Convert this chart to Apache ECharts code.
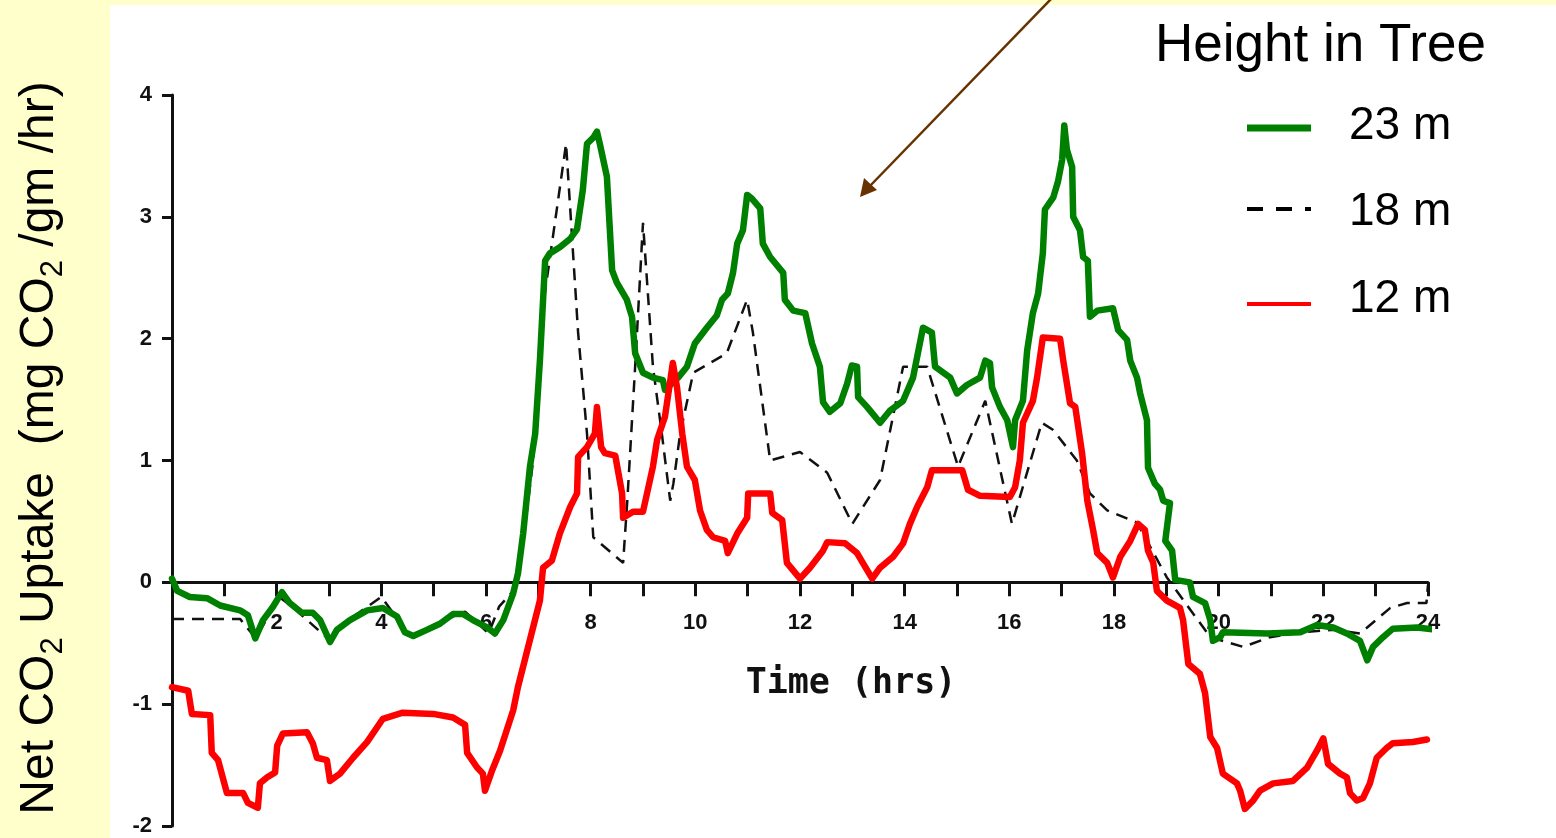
<!DOCTYPE html>
<html>
<head>
<meta charset="utf-8">
<script src="https://cdn.jsdelivr.net/npm/echarts@6/dist/echarts.min.js"></script>
<style>
  html, body { margin: 0; padding: 0; background: #ffffcc; }
  #chart { width: 1556px; height: 838px; }
</style>
</head>
<body>
<div id="chart"></div>
<script>
// hours, net CO2 uptake

const series23m = [
    [0.00, 0.03], [0.10, -0.07], [0.34, -0.12], [0.67, -0.13], [0.92, -0.19], [1.30, -0.23],
    [1.45, -0.27], [1.59, -0.46], [1.74, -0.31], [1.93, -0.20], [2.10, -0.08], [2.25, -0.17],
    [2.48, -0.25], [2.69, -0.25], [2.83, -0.31], [3.02, -0.49], [3.15, -0.39], [3.40, -0.31],
    [3.73, -0.23], [4.03, -0.21], [4.30, -0.28], [4.45, -0.41], [4.61, -0.44], [4.87, -0.39],
    [5.12, -0.34], [5.37, -0.26], [5.56, -0.26], [5.75, -0.31], [6.02, -0.37], [6.17, -0.42],
    [6.33, -0.31], [6.52, -0.09], [6.61, 0.07], [6.71, 0.40], [6.84, 0.95], [6.94, 1.22],
    [7.03, 1.82], [7.13, 2.64], [7.22, 2.70], [7.41, 2.75], [7.61, 2.82], [7.74, 2.90],
    [7.85, 3.22], [7.93, 3.60], [8.05, 3.65], [8.12, 3.70], [8.18, 3.59], [8.31, 3.33],
    [8.41, 2.56], [8.50, 2.46], [8.69, 2.32], [8.79, 2.18], [8.85, 1.88], [9.00, 1.72],
    [9.19, 1.68], [9.38, 1.66], [9.42, 1.58], [9.67, 1.68], [9.84, 1.77], [9.99, 1.96],
    [10.22, 2.09], [10.41, 2.19], [10.51, 2.32], [10.62, 2.37], [10.72, 2.54], [10.80, 2.78],
    [10.91, 2.89], [10.99, 3.18], [11.08, 3.15], [11.24, 3.07], [11.29, 2.78], [11.43, 2.67],
    [11.68, 2.54], [11.71, 2.32], [11.87, 2.23], [12.10, 2.21], [12.23, 1.96], [12.38, 1.77],
    [12.44, 1.48], [12.57, 1.40], [12.77, 1.47], [12.90, 1.63], [12.99, 1.78], [13.09, 1.77],
    [13.11, 1.52], [13.28, 1.44], [13.53, 1.31], [13.72, 1.41], [13.97, 1.49], [14.16, 1.68],
    [14.35, 2.09], [14.52, 2.05], [14.58, 1.77], [14.87, 1.68], [15.00, 1.55], [15.19, 1.62],
    [15.44, 1.68], [15.54, 1.82], [15.63, 1.80], [15.67, 1.60], [15.82, 1.44], [15.96, 1.33],
    [16.07, 1.11], [16.11, 1.33], [16.26, 1.49], [16.34, 1.90], [16.45, 2.21], [16.55, 2.37],
    [16.64, 2.70], [16.68, 3.06], [16.84, 3.16], [16.93, 3.29], [17.01, 3.47], [17.05, 3.75],
    [17.10, 3.55], [17.20, 3.41], [17.22, 3.00], [17.35, 2.89], [17.41, 2.67], [17.50, 2.64],
    [17.54, 2.18], [17.68, 2.23], [17.98, 2.25], [18.08, 2.07], [18.25, 1.99], [18.31, 1.82],
    [18.44, 1.68], [18.50, 1.55], [18.63, 1.33], [18.65, 0.94], [18.78, 0.81], [18.88, 0.76],
    [18.94, 0.67], [19.07, 0.65], [18.98, 0.34], [19.11, 0.26], [19.17, 0.02], [19.45, 0.00],
    [19.51, -0.12], [19.74, -0.17], [19.84, -0.31], [19.89, -0.48], [20.03, -0.45], [20.08, -0.41],
    [20.93, -0.42], [21.56, -0.41], [21.88, -0.35], [22.19, -0.37], [22.45, -0.42], [22.70, -0.48],
    [22.84, -0.64], [22.95, -0.53], [23.14, -0.45], [23.33, -0.38], [23.79, -0.37], [24.17, -0.39]
];

const series18m = [
    [0.00, -0.30], [1.30, -0.30], [1.60, -0.46], [2.05, -0.12], [2.35, -0.22], [3.00, -0.47],
    [3.40, -0.30], [4.00, -0.12], [4.55, -0.44], [5.10, -0.33], [5.60, -0.24], [6.05, -0.42],
    [6.25, -0.20], [6.50, -0.08], [6.70, 0.30], [6.90, 1.00], [7.10, 2.30], [7.26, 2.78],
    [7.53, 3.60], [7.76, 2.05], [7.93, 1.22], [8.05, 0.37], [8.62, 0.16], [8.70, 0.67],
    [8.85, 1.77], [9.00, 2.95], [9.19, 1.77], [9.36, 1.22], [9.52, 0.67], [9.58, 0.81],
    [9.71, 1.22], [9.96, 1.72], [10.60, 1.88], [10.99, 2.32], [11.10, 2.05], [11.43, 1.00],
    [12.00, 1.07], [12.52, 0.90], [13.00, 0.48], [13.53, 0.84], [13.97, 1.77], [14.43, 1.77],
    [15.02, 0.95], [15.54, 1.49], [16.05, 0.48], [16.62, 1.31], [16.84, 1.25], [17.29, 1.00],
    [17.54, 0.73], [17.87, 0.59], [18.44, 0.49], [19.01, 0.04], [19.84, -0.45], [20.47, -0.53],
    [20.98, -0.45], [21.56, -0.41], [22.19, -0.39], [22.70, -0.42], [23.28, -0.21], [23.60, -0.17],
    [23.97, -0.17], [24.00, -0.02]
];

const series12m = [
    [0.00, -0.86], [0.31, -0.89], [0.38, -1.08], [0.73, -1.09], [0.76, -1.40], [0.88, -1.46],
    [1.05, -1.73], [1.36, -1.73], [1.45, -1.81], [1.64, -1.85], [1.68, -1.65], [1.82, -1.60],
    [1.97, -1.56], [2.01, -1.34], [2.12, -1.24], [2.58, -1.23], [2.69, -1.32], [2.77, -1.44],
    [2.96, -1.46], [3.02, -1.63], [3.21, -1.57], [3.46, -1.44], [3.73, -1.31], [4.03, -1.12],
    [4.41, -1.07], [4.99, -1.08], [5.37, -1.11], [5.60, -1.17], [5.64, -1.40], [5.83, -1.52],
    [5.94, -1.57], [5.98, -1.71], [6.12, -1.54], [6.27, -1.38], [6.52, -1.05], [6.61, -0.86],
    [7.03, -0.15], [7.09, 0.12], [7.26, 0.18], [7.41, 0.40], [7.61, 0.62], [7.74, 0.73],
    [7.76, 1.03], [7.93, 1.11], [8.08, 1.22], [8.12, 1.44], [8.20, 1.11], [8.27, 1.06],
    [8.47, 1.04], [8.60, 0.73], [8.62, 0.53], [8.81, 0.58], [9.00, 0.58], [9.19, 0.95],
    [9.27, 1.17], [9.42, 1.36], [9.57, 1.80], [9.65, 1.60], [9.75, 1.22], [9.84, 0.95],
    [9.99, 0.84], [10.09, 0.59], [10.22, 0.43], [10.34, 0.37], [10.57, 0.34], [10.62, 0.24],
    [10.80, 0.40], [10.99, 0.53], [11.01, 0.73], [11.43, 0.73], [11.47, 0.57], [11.66, 0.51],
    [11.75, 0.16], [12.00, 0.03], [12.19, 0.12], [12.44, 0.26], [12.52, 0.33], [12.86, 0.32],
    [13.09, 0.24], [13.20, 0.16], [13.38, 0.03], [13.53, 0.12], [13.78, 0.21], [13.97, 0.32],
    [14.10, 0.48], [14.24, 0.62], [14.43, 0.78], [14.52, 0.92], [15.10, 0.92], [15.21, 0.76],
    [15.44, 0.71], [16.01, 0.70], [16.11, 0.78], [16.20, 1.00], [16.26, 1.31], [16.45, 1.49],
    [16.53, 1.68], [16.64, 2.01], [16.97, 2.00], [17.03, 1.82], [17.16, 1.47], [17.26, 1.44],
    [17.39, 1.06], [17.49, 0.67], [17.60, 0.43], [17.68, 0.24], [17.87, 0.16], [17.98, 0.04],
    [18.12, 0.21], [18.31, 0.34], [18.46, 0.48], [18.59, 0.43], [18.65, 0.26], [18.75, 0.16],
    [18.82, -0.07], [19.01, -0.15], [19.26, -0.21], [19.32, -0.31], [19.42, -0.67], [19.64, -0.75],
    [19.74, -0.91], [19.84, -1.27], [19.97, -1.36], [20.08, -1.57], [20.35, -1.65], [20.41, -1.71],
    [20.50, -1.86], [20.66, -1.79], [20.79, -1.71], [21.04, -1.65], [21.42, -1.63], [21.69, -1.52],
    [21.88, -1.38], [22.00, -1.28], [22.09, -1.49], [22.32, -1.57], [22.45, -1.60], [22.51, -1.73],
    [22.64, -1.79], [22.76, -1.77], [22.89, -1.65], [23.02, -1.44], [23.21, -1.36], [23.33, -1.32],
    [23.71, -1.31], [23.98, -1.29]
];

const legendNames = ['23 m', '18 m', '12 m'];
const legendTitle = 'Height in Tree';

const chart = echarts.init(document.getElementById('chart'));

// grid: y = 4 at 95px, y = -2 at 826px -> zero line at ~582px
const gridTop = 95, gridBottom = 12;
const zeroOffset = (838 - gridBottom - gridTop) * 4 / 6 - (838 - gridBottom - gridTop);

let option = {
    backgroundColor: '#ffffcc',
    animation: false,
    grid: {left: 172, right: 128, top: gridTop, bottom: gridBottom, containLabel: false, outerBoundsMode: 'none'},
    xAxis: [{
        type: 'value', min: 0, max: 24, interval: 1,
        axisLine: {onZero: true, lineStyle: {color: '#111', width: 3}},
        axisTick: {length: 14, lineStyle: {color: '#111', width: 3}},
        axisLabel: {show: false},
        splitLine: {show: false}
    }, {
        // tick labels, hung just under the zero line
        type: 'value', min: 0, max: 24, interval: 1, position: 'bottom', offset: zeroOffset,
        axisLine: {show: false, onZero: false},
        axisTick: {show: false},
        axisLabel: {
            margin: 30, fontSize: 22, fontWeight: 'bold', color: '#111', fontFamily: 'Liberation Sans',
            formatter: v => (v > 0 && v % 2 === 0) ? String(v) : ''
        },
        splitLine: {show: false}
    }],
    yAxis: {
        type: 'value', min: -2, max: 4, interval: 1,
        axisLine: {show: true, lineStyle: {color: '#111', width: 3}},
        axisTick: {show: true, length: 10, lineStyle: {color: '#111', width: 3}},
        axisLabel: {margin: 20, fontSize: 22, fontWeight: 'bold', color: '#111', fontFamily: 'Liberation Sans'},
        splitLine: {show: false}
    },
    series: [
        {
            name: legendNames[1], type: 'line', data: series18m, symbol: 'none', z: 2,
            lineStyle: {color: '#111', width: 2.5, type: [12, 8]}
        },
        {
            name: legendNames[0], type: 'line', data: series23m, symbol: 'none', z: 3,
            lineStyle: {color: '#008000', width: 6.5, join: 'round', cap: 'round'}
        },
        {
            name: legendNames[2], type: 'line', data: series12m, symbol: 'none', z: 4,
            lineStyle: {color: '#ff0000', width: 6.5, join: 'round', cap: 'round'}
        }
    ],
    graphic: [
        // white scan area
        {type: 'rect', left: 110, top: 5, z: -10, silent: true,
         shape: {width: 1446, height: 833}, style: {fill: '#ffffff'}},
        // y axis title
        {type: 'text', x: 40, y: 448, rotation: Math.PI / 2, z: 10,
         style: {
             text: 'Net CO{s|2} Uptake  (mg CO{s|2} /gm /hr)',
             font: '48px "Liberation Sans"', fill: '#000',
             align: 'center', verticalAlign: 'middle', lineHeight: 58,
             rich: {s: {fontSize: 31, fontFamily: 'Liberation Sans', verticalAlign: 'bottom', lineHeight: 20}}
         }},
        // x axis title
        {type: 'text', x: 851, y: 684, z: 10,
         style: {text: 'Time (hrs)', font: 'bold 35px "DejaVu Sans Mono"', fill: '#111',
                 align: 'center', verticalAlign: 'middle'}},
        // legend
        {type: 'text', x: 1155, y: 46, z: 10,
         style: {text: legendTitle, font: '53px "Liberation Sans"', fill: '#000', verticalAlign: 'middle'}},
        {type: 'line', z: 10, shape: {x1: 1247, y1: 128, x2: 1311, y2: 128},
         style: {stroke: '#008000', lineWidth: 7}},
        {type: 'text', x: 1349, y: 126, z: 10,
         style: {text: legendNames[0], font: '46px "Liberation Sans"', fill: '#000', verticalAlign: 'middle'}},
        {type: 'line', z: 10, shape: {x1: 1247, y1: 209, x2: 1311, y2: 209},
         style: {stroke: '#000', lineWidth: 4, lineDash: [16, 13]}},
        {type: 'text', x: 1349, y: 212, z: 10,
         style: {text: legendNames[1], font: '46px "Liberation Sans"', fill: '#000', verticalAlign: 'middle'}},
        {type: 'line', z: 10, shape: {x1: 1247, y1: 304, x2: 1311, y2: 304},
         style: {stroke: '#ff0000', lineWidth: 4}},
        {type: 'text', x: 1349, y: 299, z: 10,
         style: {text: legendNames[2], font: '46px "Liberation Sans"', fill: '#000', verticalAlign: 'middle'}},
        // brown arrow
        {type: 'line', z: 10, shape: {x1: 1052, y1: -2, x2: 868, y2: 188},
         style: {stroke: '#663300', lineWidth: 2.5}},
        {type: 'polygon', z: 10, shape: {points: [[860, 197], [864, 178], [877, 190]]},
         style: {fill: '#663300'}}
    ]
};

chart.setOption(option);

window.onresize = function () {
    chart.resize();
};
</script>
</body>
</html>
